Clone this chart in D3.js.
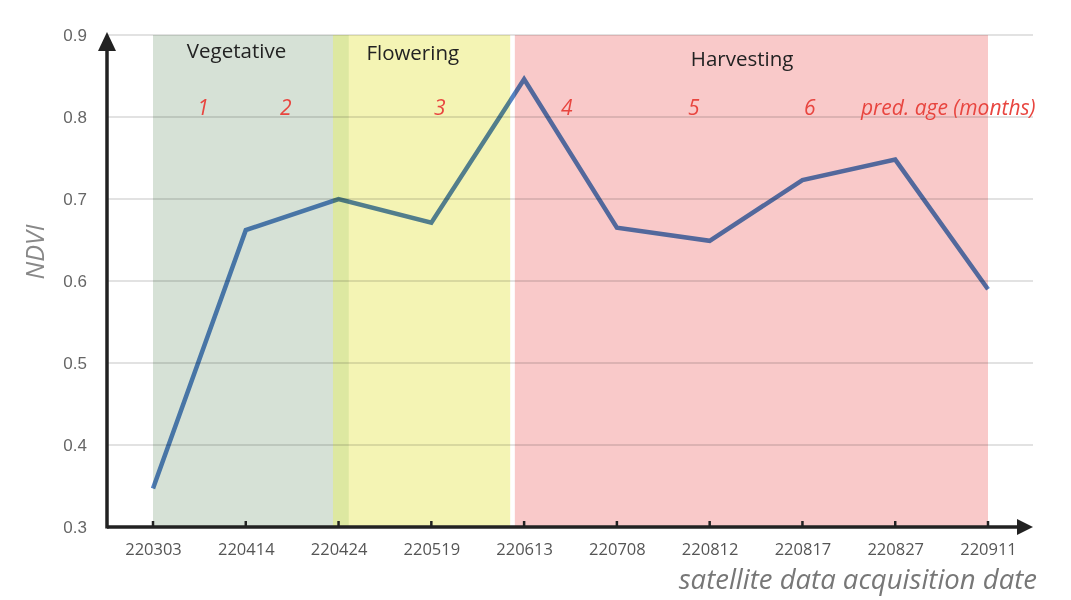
<!DOCTYPE html>
<html>
<head>
<meta charset="utf-8">
<script src="https://cdn.jsdelivr.net/npm/d3@7"></script>
<style>
  body { margin: 0; background: #fff; }
  svg { display: block; }
</style>
</head>
<body>
<div id="chart-area"></div>
<script>
// data
var dates = ['220303', '220414', '220424', '220519', '220613', '220708', '220812', '220817', '220827', '220911'];
var ndvi = [0.347, 0.662, 0.700, 0.671, 0.846, 0.665, 0.649, 0.723, 0.748, 0.590];
var yTicks = [0.3, 0.4, 0.5, 0.6, 0.7, 0.8, 0.9];

// growth phases, start/end in date-index units
var phaseNames = ['Vegetative', 'Flowering', 'Harvesting'];
var phaseStart = [0, 1.94, 3.9];
var phaseEnd = [2.11, 3.85, 9];
var phaseColors = ['#d6e1d6', '#f4f4b4', '#f9c9c9'];
var overlapColor = '#dde8a1';

// predicted age labels
var ageLabels = ['1', '2', '3', '4', '5', '6', 'pred. age (months)'];
var agePos = [0.54, 1.43, 3.09, 4.46, 5.83, 7.08, 7.63];

var margin = { left: 107, right: 38, top: 35, bottom: 73 };
var width = 1071 - margin.left - margin.right;
var height = 600 - margin.top - margin.bottom;

var svg = d3.select('#chart-area')
    .append('svg')
    .attr('width', 1071)
    .attr('height', 600);

var g = svg.append('g')
    .attr('transform', 'translate(' + margin.left + ', ' + margin.top + ')');

var x = d3.scalePoint()
    .domain(dates)
    .range([46, 881]);

// same positions, but for fractional indexes (bands, labels)
var xi = d3.scaleLinear()
    .domain([0, dates.length - 1])
    .range(x.range());

var y = d3.scaleLinear()
    .domain([0.3, 0.9])
    .range([height, 0]);

// bands
g.selectAll('rect.phase')
    .data(phaseNames)
    .enter()
    .append('rect')
    .attr('class', 'phase')
    .attr('x', (d, i) => xi(phaseStart[i]))
    .attr('width', (d, i) => xi(phaseEnd[i]) - xi(phaseStart[i]))
    .attr('y', y(0.9))
    .attr('height', y(0.3) - y(0.9))
    .attr('fill', (d, i) => phaseColors[i]);

// where vegetative and flowering overlap
g.append('rect')
    .attr('x', xi(phaseStart[1]))
    .attr('width', xi(phaseEnd[0]) - xi(phaseStart[1]))
    .attr('y', y(0.9))
    .attr('height', y(0.3) - y(0.9))
    .attr('fill', overlapColor);

// gridlines
g.selectAll('line.grid')
    .data(yTicks.slice(1))
    .enter()
    .append('line')
    .attr('class', 'grid')
    .attr('x1', 0)
    .attr('x2', width)
    .attr('y1', d => y(d))
    .attr('y2', d => y(d))
    .attr('stroke', '#c6c6c6')
    .attr('stroke-width', 1.2)
    .style('mix-blend-mode', 'multiply');

// the NDVI line, multiplied into the bands like the original
var line = d3.line()
    .x((d, i) => x(dates[i]))
    .y(d => y(d));

g.append('path')
    .datum(ndvi)
    .attr('d', line)
    .attr('fill', 'none')
    .attr('stroke', '#5584c6')
    .attr('stroke-width', 4.5)
    .attr('stroke-linejoin', 'miter')
    .style('mix-blend-mode', 'multiply');

// phase titles
var phaseLabelPos = [0.9, 2.8, 6.35];
var phaseLabelY = [23, 25, 31];
g.selectAll('text.phase')
    .data(phaseNames)
    .enter()
    .append('text')
    .attr('class', 'phase')
    .attr('x', (d, i) => xi(phaseLabelPos[i]))
    .attr('y', (d, i) => phaseLabelY[i])
    .attr('text-anchor', 'middle')
    .attr('font-family', 'Open Sans')
    .attr('font-size', '20.5px')
    .attr('fill', '#222')
    .text(d => d);

// predicted ages
g.selectAll('text.age')
    .data(ageLabels)
    .enter()
    .append('text')
    .attr('class', 'age')
    .attr('x', (d, i) => xi(agePos[i]))
    .attr('y', 80)
    .attr('text-anchor', (d, i) => i === ageLabels.length - 1 ? 'start' : 'middle')
    .attr('font-family', 'Open Sans')
    .attr('font-style', 'italic')
    .attr('font-size', '21px')
    .attr('fill', '#e8453f')
    .text(d => d);

// x axis
var xAxisGroup = g.append('g')
    .attr('transform', `translate(0, ${height})`)
    .call(d3.axisBottom(x).tickSize(0).tickPadding(16));
xAxisGroup.select('.domain').remove();
xAxisGroup.selectAll('text')
    .attr('font-family', 'Open Sans')
    .attr('font-size', '16.5px')
    .attr('fill', '#555');

g.selectAll('line.xtick')
    .data(dates)
    .enter()
    .append('line')
    .attr('class', 'xtick')
    .attr('x1', d => x(d))
    .attr('x2', d => x(d))
    .attr('y1', height - 6)
    .attr('y2', height)
    .attr('stroke', '#222')
    .attr('stroke-width', 2.5);

// y axis labels
var yAxisGroup = g.append('g')
    .call(d3.axisLeft(y).tickValues(yTicks).tickSize(0).tickPadding(20).tickFormat(d3.format('.1f')));
yAxisGroup.select('.domain').remove();
yAxisGroup.selectAll('text')
    .attr('font-family', 'Liberation Sans')
    .attr('font-size', '17px')
    .attr('fill', '#666');

// arrow axes
g.append('line')
    .attr('x1', 0).attr('x2', width - 12)
    .attr('y1', height).attr('y2', height)
    .attr('stroke', '#222').attr('stroke-width', 3.5);
g.append('path')
    .attr('d', `M${width - 16},${height - 8}L${width},${height}L${width - 16},${height + 8}Z`)
    .attr('fill', '#222');

g.append('line')
    .attr('x1', 0).attr('x2', 0)
    .attr('y1', height + 1.5).attr('y2', 10)
    .attr('stroke', '#222').attr('stroke-width', 3.5);
g.append('path')
    .attr('d', `M-9,16L0,-3L9,16Z`)
    .attr('fill', '#222');

// axis titles
g.append('text')
    .attr('x', -217)
    .attr('y', -63)
    .attr('text-anchor', 'middle')
    .attr('transform', 'rotate(-90)')
    .attr('font-family', 'Open Sans')
    .attr('font-style', 'italic')
    .attr('font-size', '25px')
    .attr('fill', '#888')
    .text('NDVI');

g.append('text')
    .attr('x', width + 4)
    .attr('y', height + 62)
    .attr('text-anchor', 'end')
    .attr('font-family', 'Open Sans')
    .attr('font-style', 'italic')
    .attr('font-size', '27.5px')
    .attr('fill', '#777')
    .text('satellite data acquisition date');
</script>
</body>
</html>
